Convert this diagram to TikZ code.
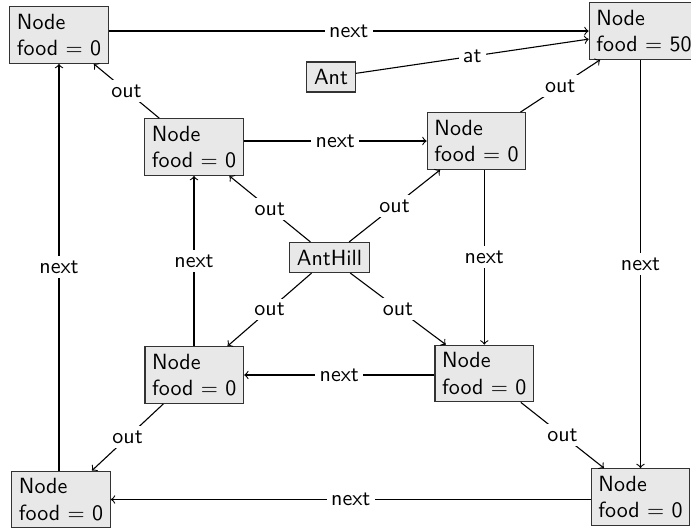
\documentclass[tikz,border=0pt]{standalone}
\begin{document}
\begin{tikzpicture}[x=0.4545pt,y=-0.4545pt,
  every node/.style={font=\sffamily},
  obj/.style={draw=black!80, fill=black!9, align=left, inner sep=3.3pt, line width=0.5pt},
  lbl/.style={fill=white, inner sep=2pt},
  conn/.style={->, draw=black, line width=0.5pt}]
\useasboundingbox (0,0) rectangle (691,531);
\node[obj] (tl) at (59,35) {Node\\food $=$ 0};
\node[obj] (tr) at (644,31) {Node\\food $=$ 50};
\node[obj] (ant) at (331,77) {Ant};
\node[obj] (ul) at (194,147) {Node\\food $=$ 0};
\node[obj] (ur) at (476.5,141) {Node\\food $=$ 0};
\node[obj] (hill) at (329.5,257.5) {AntHill};
\node[obj] (ll) at (194.3,375) {Node\\food $=$ 0};
\node[obj] (lr) at (484.3,373.5) {Node\\food $=$ 0};
\node[obj] (bl) at (61,499.5) {Node\\food $=$ 0};
\node[obj] (br) at (640.5,497) {Node\\food $=$ 0};
% outer ring
\draw[conn] (tl.east |- tr) -- node[lbl] {next} (tr);
\draw[conn] (ant) -- node[lbl] {at} (tr);
\draw[conn] (tr.south -| br) -- node[lbl] {next} (br);
\draw[conn] (br.west |- bl) -- node[lbl] {next} (bl);
\draw[conn] (bl.north -| tl) -- node[lbl] {next} (tl);
% inner ring
\draw[conn] (ul.east |- ur) -- node[lbl] {next} (ur);
\draw[conn] (ur.south -| lr) -- node[lbl] {next} (lr);
\draw[conn] (lr.west |- ll) -- node[lbl] {next} (ll);
\draw[conn] (ll.north -| ul) -- node[lbl] {next} (ul);
% from anthill
\draw[conn] (hill) -- node[lbl] {out} (ul);
\draw[conn] (hill) -- node[lbl] {out} (ur);
\draw[conn] (hill) -- node[lbl] {out} (ll);
\draw[conn] (hill) -- node[lbl] {out} (lr);
% inner to outer
\draw[conn] (ul) -- node[lbl] {out} (tl);
\draw[conn] (ur) -- node[lbl] {out} (tr);
\draw[conn] (ll) -- node[lbl] {out} (bl);
\draw[conn] (lr) -- node[lbl] {out} (br);
\end{tikzpicture}
\end{document}
